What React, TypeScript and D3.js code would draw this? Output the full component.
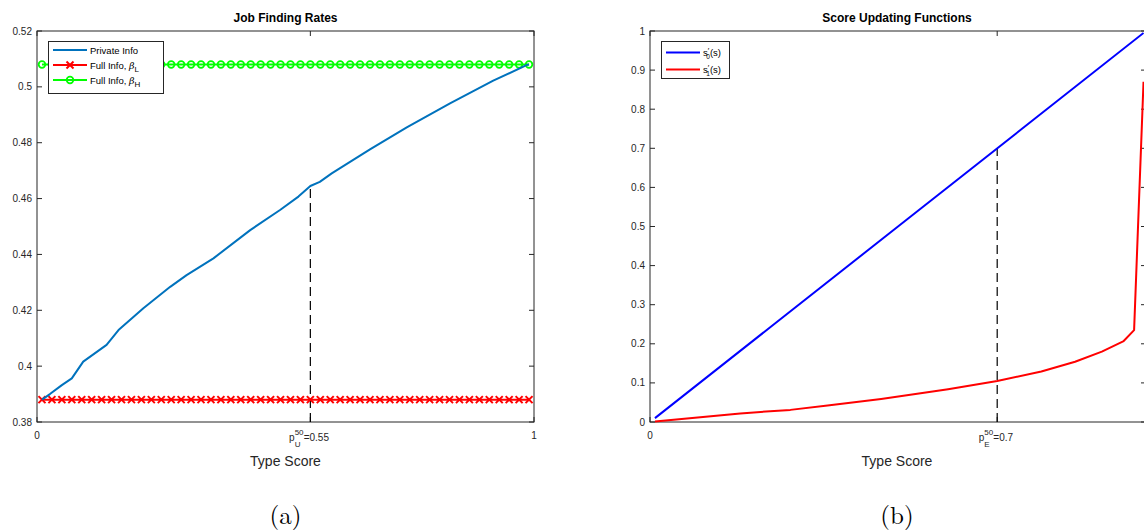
import React from "react";
import * as d3 from "d3";

// ---------- Data ----------
// Panel (a): Job Finding Rates
const privX = [0.01, 0.026, 0.05, 0.07, 0.093, 0.14, 0.164, 0.187, 0.214, 0.268, 0.301, 0.355, 0.429, 0.489, 0.526, 0.55, 0.569, 0.593, 0.67, 0.744, 0.831, 0.918, 0.985, 0.99];
const privateInfo = [0.388, 0.390, 0.3932, 0.3956, 0.4016, 0.4076, 0.4129, 0.4165, 0.4207, 0.4284, 0.4326, 0.4386, 0.4487, 0.4559, 0.4607, 0.4645, 0.466, 0.469, 0.4776, 0.4855, 0.4941, 0.5022, 0.5078, 0.508];
const fullX = [0.01, 0.03, 0.05, 0.07, 0.09, 0.11, 0.13, 0.15, 0.17, 0.19, 0.21, 0.23, 0.25, 0.27, 0.29, 0.31, 0.33, 0.35, 0.37, 0.39, 0.41, 0.43, 0.45, 0.47, 0.49, 0.51, 0.53, 0.55, 0.57, 0.59, 0.61, 0.63, 0.65, 0.67, 0.69, 0.71, 0.73, 0.75, 0.77, 0.79, 0.81, 0.83, 0.85, 0.87, 0.89, 0.91, 0.93, 0.95, 0.97, 0.99];
const fullInfoLowValue = 0.388;
const fullInfoHighValue = 0.508;
const leftYTicks = [0.38, 0.4, 0.42, 0.44, 0.46, 0.48, 0.5, 0.52];
const pU = 0.55;
const pUValue = 0.4645;

// Panel (b): Score Updating Functions
const s0X = [0.01, 0.25, 0.5, 0.75, 0.995];
const s0Y = [0.01, 0.25, 0.5, 0.75, 0.995];
const s1X = [0.01, 0.182, 0.283, 0.358, 0.466, 0.601, 0.7, 0.789, 0.857, 0.911, 0.955, 0.976, 0.995];
const s1Y = [0.001, 0.022, 0.031, 0.042, 0.059, 0.084, 0.105, 0.129, 0.154, 0.18, 0.207, 0.235, 0.87];
const rightYTicks = [0, 0.1, 0.2, 0.3, 0.4, 0.5, 0.6, 0.7, 0.8, 0.9, 1];
const pE = 0.7;
const pEValue = 0.7;

const AX = "#262626";
const FONT = "'Liberation Sans', Arial, Helvetica, sans-serif";
const SERIF = "'Latin Modern Roman', 'Liberation Serif', 'DejaVu Serif', serif";

type Pt = [number, number];

function Frame({ x0, x1, y0, y1, yTicks, y, xTicks, x, yFmt }: any) {
  const tl = 5;
  return (
    <g>
      <rect x={x0} y={y0} width={x1 - x0} height={y1 - y0} fill="none" stroke={AX} strokeWidth={1} />
      {yTicks.map((t: number, i: number) => (
        <g key={"y" + i}>
          <line x1={x0} x2={x0 + tl} y1={y(t)} y2={y(t)} stroke={AX} />
          <line x1={x1} x2={x1 - tl} y1={y(t)} y2={y(t)} stroke={AX} />
          <text x={x0 - 5} y={y(t) + 3.5} textAnchor="end" fontSize={10} fill={AX} fontFamily={FONT}>
            {yFmt(t)}
          </text>
        </g>
      ))}
      {xTicks.map((t: number, i: number) => (
        <g key={"x" + i}>
          <line x1={x(t)} x2={x(t)} y1={y1} y2={y1 - tl} stroke={AX} />
          <line x1={x(t)} x2={x(t)} y1={y0} y2={y0 + tl} stroke={AX} />
        </g>
      ))}
    </g>
  );
}

function XMark({ cx, cy, s, color }: any) {
  return (
    <g stroke={color} strokeWidth={2}>
      <line x1={cx - s} y1={cy - s} x2={cx + s} y2={cy + s} />
      <line x1={cx - s} y1={cy + s} x2={cx + s} y2={cy - s} />
    </g>
  );
}

function PTick({ x, base, sub, rest }: any) {
  // "p" with stacked superscript "50" and subscript letter, then "=value"
  const pw = 5.6;
  const sw = 9;
  const rw = rest.length * 5.6;
  const total = pw + sw + rw;
  const left = x - total / 2;
  return (
    <g fill={AX} fontFamily={FONT}>
      <text x={left} y={base} fontSize={10}>p</text>
      <text x={left + pw} y={base - 6} fontSize={8}>50</text>
      <text x={left + pw} y={base + 6} fontSize={8}>{sub}</text>
      <text x={left + pw + sw} y={base} fontSize={10}>{rest}</text>
    </g>
  );
}

export default function App() {
  // Left panel
  const L = { x0: 37, x1: 534, y0: 31, y1: 422 };
  const xL = d3.scaleLinear().domain([0, 1]).range([L.x0, L.x1]);
  const yL = d3.scaleLinear().domain([0.38, 0.52]).range([L.y1, L.y0]);
  const lineL = d3.line<Pt>().x((d) => xL(d[0])).y((d) => yL(d[1]));
  const privPts: Pt[] = privX.map((v, i) => [v, privateInfo[i]]);
  const lowPts: Pt[] = fullX.map((v) => [v, fullInfoLowValue]);
  const highPts: Pt[] = fullX.map((v) => [v, fullInfoHighValue]);

  // Right panel (its right edge lies just past the picture)
  const R = { x0: 650, x1: 1146, y0: 31, y1: 422 };
  const xR = d3.scaleLinear().domain([0, 1]).range([R.x0, R.x1]);
  const yR = d3.scaleLinear().domain([0, 1]).range([R.y1, R.y0]);
  const lineR = d3.line<Pt>().x((d) => xR(d[0])).y((d) => yR(d[1]));
  const s0Pts: Pt[] = s0X.map((v, i) => [v, s0Y[i]]);
  const s1Pts: Pt[] = s1X.map((v, i) => [v, s1Y[i]]);

  const fmtL = (t: number) => String(+t.toFixed(2));
  const fmtR = (t: number) => String(+t.toFixed(1));

  const tickY = 439;

  return (
    <svg width={1144} height={531} style={{ position: "absolute", left: 0, top: 0, background: "#fff" }} fontFamily={FONT}>
      <rect x={0} y={0} width={1144} height={531} fill="#fff" />
      {/* ---------- Panel (a) ---------- */}
      <Frame x0={L.x0} x1={L.x1} y0={L.y0} y1={L.y1} yTicks={leftYTicks} y={yL} xTicks={[0, pU, 1]} x={xL} yFmt={fmtL} />
      <text x={(L.x0 + L.x1) / 2} y={22} textAnchor="middle" fontSize={12} fontWeight="bold" fill="#000">Job Finding Rates</text>
      <line x1={xL(pU)} x2={xL(pU)} y1={yL(0.38)} y2={yL(pUValue)} stroke="#000" strokeWidth={1.2} strokeDasharray="9,5" />
      <path d={lineL(highPts) || ""} fill="none" stroke="#00FF00" strokeWidth={2} />
      {highPts.map((d, i) => (
        <circle key={"h" + i} cx={xL(d[0])} cy={yL(d[1])} r={3.3} fill="none" stroke="#00FF00" strokeWidth={1.8} />
      ))}
      <path d={lineL(lowPts) || ""} fill="none" stroke="#FF0000" strokeWidth={2} />
      {lowPts.map((d, i) => (
        <XMark key={"l" + i} cx={xL(d[0])} cy={yL(d[1])} s={3.5} color="#FF0000" />
      ))}
      <path d={lineL(privPts) || ""} fill="none" stroke="#0072BD" strokeWidth={2} strokeLinejoin="round" />
      <text x={xL(0)} y={tickY} textAnchor="middle" fontSize={10} fill={AX}>0</text>
      <text x={xL(1)} y={tickY} textAnchor="middle" fontSize={10} fill={AX}>1</text>
      <PTick x={xL(pU)} base={441} sub="U" rest="=0.55" />
      <text x={(L.x0 + L.x1) / 2} y={466} textAnchor="middle" fontSize={14} fill={AX}>Type Score</text>
      <text x={(L.x0 + L.x1) / 2} y={524} textAnchor="middle" fontSize={25} fill="#000" fontFamily={SERIF}>(a)</text>
      {/* legend (a) */}
      <g>
        <rect x={48.5} y={41.5} width={115} height={52} fill="#fff" stroke={AX} strokeWidth={1} />
        <line x1={53} x2={87} y1={50} y2={50} stroke="#0072BD" strokeWidth={2} />
        <text x={90} y={53.5} fontSize={9.5} fill="#000">Private Info</text>
        <line x1={53} x2={87} y1={65} y2={65} stroke="#FF0000" strokeWidth={2} />
        <XMark cx={70} cy={65} s={3.5} color="#FF0000" />
        <text x={90} y={68.5} fontSize={9.5} fill="#000">
          Full Info, <tspan fontStyle="italic" fontFamily="'DejaVu Serif', serif">β</tspan>
          <tspan fontSize={8} dy={3}>L</tspan>
        </text>
        <line x1={53} x2={87} y1={80} y2={80} stroke="#00FF00" strokeWidth={2} />
        <circle cx={70} cy={80} r={3.3} fill="none" stroke="#00FF00" strokeWidth={1.8} />
        <text x={90} y={83.5} fontSize={9.5} fill="#000">
          Full Info, <tspan fontStyle="italic" fontFamily="'DejaVu Serif', serif">β</tspan>
          <tspan fontSize={8} dy={3}>H</tspan>
        </text>
      </g>

      {/* ---------- Panel (b) ---------- */}
      <Frame x0={R.x0} x1={R.x1} y0={R.y0} y1={R.y1} yTicks={rightYTicks} y={yR} xTicks={[0, pE, 1]} x={xR} yFmt={fmtR} />
      <text x={897} y={22} textAnchor="middle" fontSize={12} fontWeight="bold" fill="#000">Score Updating Functions</text>
      <line x1={xR(pE)} x2={xR(pE)} y1={yR(0)} y2={yR(pEValue)} stroke="#000" strokeWidth={1.2} strokeDasharray="9,5" />
      <path d={lineR(s0Pts) || ""} fill="none" stroke="#0000FF" strokeWidth={2} />
      <path d={lineR(s1Pts) || ""} fill="none" stroke="#FF0000" strokeWidth={2} strokeLinejoin="round" />
      <text x={xR(0)} y={tickY} textAnchor="middle" fontSize={10} fill={AX}>0</text>
      <PTick x={xR(pE)} base={441} sub="E" rest="=0.7" />
      <text x={897} y={466} textAnchor="middle" fontSize={14} fill={AX}>Type Score</text>
      <text x={897} y={524} textAnchor="middle" fontSize={25} fill="#000" fontFamily={SERIF}>(b)</text>
      {/* legend (b) */}
      <g>
        <rect x={661.5} y={41.5} width={68} height={37} fill="#fff" stroke={AX} strokeWidth={1} />
        <line x1={666} x2={700} y1={52.5} y2={52.5} stroke="#0000FF" strokeWidth={2} />
        <text x={703} y={56} fontSize={9.5} fill="#000">
          s<tspan fontSize={8} dy={-3}>′</tspan><tspan fontSize={6.5} dx={-3} dy={6}>0</tspan><tspan dy={-3}>(s)</tspan>
        </text>
        <line x1={666} x2={700} y1={69.5} y2={69.5} stroke="#FF0000" strokeWidth={2} />
        <text x={703} y={73} fontSize={9.5} fill="#000">
          s<tspan fontSize={8} dy={-3}>′</tspan><tspan fontSize={6.5} dx={-3} dy={6}>1</tspan><tspan dy={-3}>(s)</tspan>
        </text>
      </g>
    </svg>
  );
}
